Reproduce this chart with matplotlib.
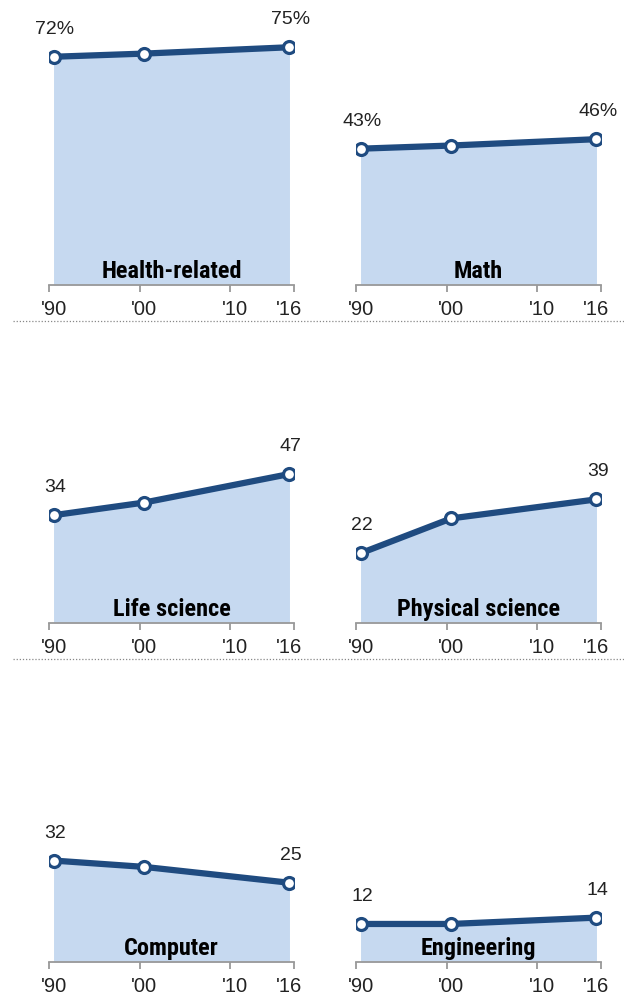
import matplotlib
matplotlib.use("Agg")
import matplotlib.pyplot as plt
from matplotlib import font_manager

names = {f.name for f in font_manager.fontManager.ttflist}
NARROW = "Liberation Sans Narrow" if "Liberation Sans Narrow" in names else "Roboto Condensed" if "Roboto Condensed" in names else "Liberation Sans"
REG = "Liberation Sans"

years = [1990, 2000, 2016]
categories = ["Health-related", "Math", "Life science", "Physical science", "Computer", "Engineering"]
health = [72, 73, 75]
math_ = [43, 44, 46]
life = [34, 38, 47]
physical = [22, 33, 39]
computer = [32, 30, 25]
engineering = [12, 12, 14]
series = [health, math_, life, physical, computer, engineering]
label_pct = [True, True, False, False, False, False]
tick_pos = [1990, 2000, 2010, 2016]
tick_labels = ["'90", "'00", "'10", "'16"]

W, H = 624, 997
fig = plt.figure(figsize=(W / 100, H / 100), dpi=100)

LINE = "#1f4b80"
FILL = "#c6d9f0"
YMAX = 80
PX_PER_UNIT = 3.17
col_left = [49, 356]
col_width = 245
row_base = [285, 623, 962]

for i, (cat, vals) in enumerate(zip(categories, series)):
    r, c = divmod(i, 2)
    h = YMAX * PX_PER_UNIT
    ax = fig.add_axes([col_left[c] / W, (H - row_base[r]) / H, col_width / W, h / H])
    ax.set_xlim(1989.5, 2016.5)
    ax.set_ylim(0, YMAX)
    ax.fill_between(years, vals, 0, color=FILL, lw=0, zorder=1)
    ax.plot(years, vals, color=LINE, lw=4.5, solid_capstyle="butt", zorder=2,
            marker="o", ms=8.6, mfc="white", mec=LINE, mew=2.3)
    for sp in ["top", "left", "right"]:
        ax.spines[sp].set_visible(False)
    ax.spines["bottom"].set_color("#999999")
    ax.spines["bottom"].set_linewidth(1.3)
    ax.set_yticks([])
    ax.set_xticks(tick_pos)
    ax.set_xticklabels(tick_labels, fontsize=14.5, family=REG, color="#222222")
    ax.tick_params(axis="x", which="major", length=0, pad=11)
    ax.set_xticks([1989.5, 1999.5, 2009.5, 2016.5], minor=True)
    ax.tick_params(axis="x", which="minor", length=5, width=1.3, color="#999999", direction="out")
    ax.patch.set_alpha(0)
    for j in (0, len(years) - 1):
        txt = f"{vals[j]}%" if label_pct[i] else f"{vals[j]}"
        ax.annotate(txt, (years[j], vals[j]), xytext=(1, 16.5), textcoords="offset points",
                    ha="center", va="baseline", fontsize=14, family=REG, color="#222222",
                    annotation_clip=False)
    ax.annotate(cat, ((years[0] + years[-1]) / 2, 0), xytext=(0, 5), textcoords="offset points",
                ha="center", va="baseline", fontsize=17.5, family=NARROW, weight="bold",
                color="black")

# dotted separators
for y in [321, 659]:
    fig.add_artist(plt.Line2D([13 / W, 1.0], [(H - y) / H] * 2, transform=fig.transFigure,
                              color="#888888", lw=0.9, ls=(0, (1, 1.5))))

fig.savefig("out.png", dpi=100)
